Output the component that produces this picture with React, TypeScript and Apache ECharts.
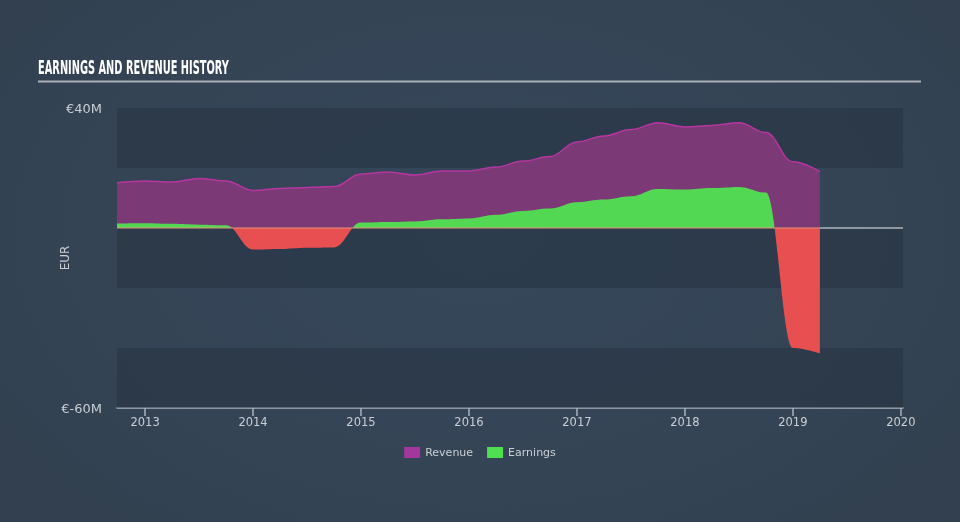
import React, { useEffect, useRef } from "react";
import * as echarts from "echarts";

// Quarter-end dates as decimal years
const dates = [
  2012.74, 2013.0, 2013.25, 2013.5, 2013.75, 2014.0, 2014.25, 2014.5, 2014.75,
  2015.0, 2015.25, 2015.5, 2015.75, 2016.0, 2016.25, 2016.5, 2016.75,
  2017.0, 2017.25, 2017.5, 2017.75, 2018.0, 2018.25, 2018.5, 2018.75,
  2019.0, 2019.25,
];
// Revenue, EUR millions
const revenue = [
  15.1, 15.7, 15.3, 16.5, 15.7, 12.5, 13.2, 13.5, 13.8,
  18.0, 18.7, 17.7, 19.0, 19.0, 20.3, 22.3, 23.8,
  28.7, 30.7, 32.8, 35.1, 33.7, 34.2, 35.1, 31.8,
  22.1, 18.8,
];
// Earnings, EUR millions
const earnings = [
  1.5, 1.6, 1.4, 1.1, 0.9, -7.2, -7.0, -6.6, -6.5,
  1.8, 2.0, 2.2, 2.9, 3.2, 4.4, 5.7, 6.5,
  8.6, 9.5, 10.6, 13.0, 12.8, 13.3, 13.7, 11.8,
  -40.0, -41.8,
];
const yearTicks = [2013, 2014, 2015, 2016, 2017, 2018, 2019, 2020];
const yLabelValues = [40, -60];
// darker background bands [top, bottom] in EUR millions
const darkBands = [
  [40, 20],
  [0, -20],
  [-40, -60],
];
const xMin = 2012.74;
const xMax = 2020.02;

const TITLE = "EARNINGS AND REVENUE HISTORY";

export default function App() {
  const ref = useRef<HTMLDivElement>(null);

  useEffect(() => {
    if (!ref.current) return;
    const chart = echarts.init(ref.current, null, { renderer: "svg" });

    const titleFont = "bold 20px 'DejaVu Sans Condensed', 'DejaVu Sans', sans-serif";
    let titleScale = 0.62;
    try {
      const c = document.createElement("canvas").getContext("2d");
      if (c) {
        c.font = titleFont;
        const w = c.measureText(TITLE).width;
        if (w > 0) titleScale = 191 / w;
      }
    } catch (e) {}

    const last = dates.length - 1;
    const labelColor = "#c9ced5";
    const font = "DejaVu Sans";

    // split the earnings fill at zero: gradient over the shape's bounding box
    const eMax = Math.max(0, ...earnings);
    const eMin = Math.min(0, ...earnings);
    const zeroOff = eMax / (eMax - eMin);
    const green = "#53d853";
    const red = "#e84f50";
    const earnGrad = new echarts.graphic.LinearGradient(0, 0, 0, 1, [
      { offset: 0, color: green },
      { offset: zeroOff, color: green },
      { offset: zeroOff, color: red },
      { offset: 1, color: red },
    ]);

    chart.setOption({
      animation: false,
      backgroundColor: "transparent",
      textStyle: { fontFamily: font },
      grid: { left: 117, right: 57, top: 108, bottom: 114 },
      graphic: [
        {
          type: "text",
          x: 38,
          y: 67.5,
          scaleX: titleScale,
          style: {
            text: TITLE,
            font: titleFont,
            fill: "#ffffff",
            verticalAlign: "middle",
          },
        },
        {
          type: "line",
          shape: { x1: 38, y1: 81.5, x2: 921, y2: 81.5 },
          style: { stroke: "#a9b0b8", lineWidth: 2 },
        },
      ],
      legend: {
        bottom: 59,
        left: "center",
        icon: "rect",
        itemWidth: 16,
        itemHeight: 11,
        itemGap: 14,
        textStyle: { color: labelColor, fontSize: 11, fontFamily: font },
        data: [
          { name: "Revenue", itemStyle: { color: "#a3389c" } },
          { name: "Earnings", itemStyle: { color: "#4fdf50" } },
        ],
      },
      xAxis: {
        type: "value",
        min: xMin,
        max: xMax,
        axisLine: {
          show: true,
          onZero: false,
          lineStyle: { color: "#a9b2bc", width: 1.5 },
        },
        axisTick: {
          show: true,
          customValues: yearTicks,
          length: 8,
          lineStyle: { color: "#a9b2bc", width: 1.5 },
        },
        axisLabel: {
          customValues: yearTicks,
          color: labelColor,
          fontSize: 11.5,
          margin: 8,
          formatter: (v: number) => String(Math.round(v)),
        },
        splitLine: { show: false },
      },
      yAxis: {
        type: "value",
        min: -60,
        max: 40,
        interval: 20,
        name: "EUR",
        nameLocation: "middle",
        nameGap: 46,
        nameMoveOverlap: false,
        nameTextStyle: { color: labelColor, fontSize: 12, fontFamily: font },
        axisLine: { show: false },
        axisTick: { show: false },
        axisLabel: {
          color: labelColor,
          fontSize: 13,
          margin: 15,
          formatter: (v: number) =>
            yLabelValues.indexOf(v) >= 0 ? "€" + v + "M" : "",
        },
        splitLine: { show: false },
        splitArea: { show: false },
      },
      series: [
        {
          name: "bands",
          type: "custom",
          silent: true,
          z: 1,
          data: darkBands.map((b) => [b[0], b[1]]),
          renderItem: (params: any, api: any) => {
            const p1 = api.coord([xMin, api.value(0)]);
            const p2 = api.coord([xMax, api.value(1)]);
            return {
              type: "rect",
              shape: {
                x: p1[0],
                y: p1[1],
                width: p2[0] - p1[0],
                height: p2[1] - p1[1],
              },
              style: { fill: "rgba(32,43,56,0.38)" },
            };
          },
        },
        {
          name: "Revenue",
          type: "line",
          data: dates.map((d, i) => [d, revenue[i]]),
          smooth: 0.4,
          smoothMonotone: "x",
          symbol: "none",
          z: 2,
          itemStyle: { color: "#a3389c" },
          lineStyle: { color: "#b5369f", width: 1.5 },
          areaStyle: { color: "#7b3975", opacity: 1 },
        },
        {
          name: "Earnings",
          type: "line",
          data: dates.map((d, i) => [d, earnings[i]]),
          smooth: 0.4,
          smoothMonotone: "x",
          symbol: "none",
          z: 3,
          itemStyle: { color: "#4fdf50" },
          lineStyle: { width: 0 },
          areaStyle: { color: earnGrad, opacity: 1 },
        },
        {
          name: "zeroData",
          type: "line",
          data: [
            [dates[0], 0],
            [dates[last], 0],
          ],
          symbol: "none",
          silent: true,
          z: 4,
          lineStyle: { color: "#e3927c", width: 1.2 },
        },
        {
          name: "zeroRest",
          type: "line",
          data: [
            [dates[last], 0],
            [xMax, 0],
          ],
          symbol: "none",
          silent: true,
          z: 4,
          lineStyle: { color: "#aeb6bf", width: 1.5 },
        },
      ],
    });

    return () => chart.dispose();
  }, []);

  return (
    <div
      style={{
        position: "fixed",
        left: 0,
        top: 0,
        width: 960,
        height: 522,
        background:
          "radial-gradient(ellipse 75% 90% at 50% 45%, #36475a 0%, #344455 55%, #313e4c 100%)",
      }}
    >
      <div ref={ref} style={{ width: 960, height: 522 }} />
    </div>
  );
}
